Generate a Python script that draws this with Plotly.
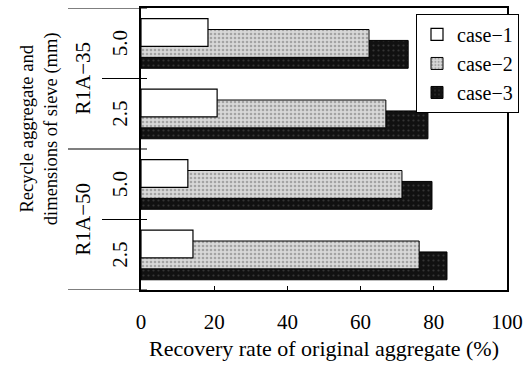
import plotly.graph_objects as go

# ---- data ----
categories = ["R1A−35 5.0", "R1A−35 2.5", "R1A−50 5.0", "R1A−50 2.5"]
sieve_labels = ["5.0", "2.5", "5.0", "2.5"]
group_labels = ["R1A−35", "R1A−50"]
series_names = ["case−1", "case−2", "case−3"]
case1 = [18.3, 20.8, 12.8, 14.2]
case2 = [62.3, 66.9, 71.3, 76.0]
case3 = [73.0, 78.4, 79.5, 83.6]
x_ticks = [0, 20, 40, 60, 80, 100]

FONT = "Liberation Serif"
W, H = 529, 374
L, R, T, B = 141, 22, 6, 84
PW = W - L - R
PH = H - T - B

def px2paper(px):
    return (px - L) / PW

fig = go.Figure()
bar_w = 0.395
styles = {
    "case−3": dict(offset=-0.04, marker=dict(color="#111111", line=dict(color="#000", width=1),
                                            pattern=dict(shape=".", fgcolor="#5a5a5a", bgcolor="#111111", size=5, solidity=0.15))),
    "case−2": dict(offset=-0.195, marker=dict(color="#cccccc", line=dict(color="#000", width=1),
                                             pattern=dict(shape=".", fgcolor="#6e6e6e", bgcolor="#d8d8d8", size=4, solidity=0.35))),
    "case−1": dict(offset=-0.35, marker=dict(color="#ffffff", line=dict(color="#000", width=1.2))),
}
for name, vals in [("case−3", case3), ("case−2", case2), ("case−1", case1)]:
    s = styles[name]
    fig.add_trace(go.Bar(y=categories, x=vals, orientation="h", name=name,
                         width=bar_w, offset=s["offset"], marker=s["marker"]))

fig.update_layout(
    width=W, height=H, margin=dict(l=L, r=R, t=T, b=B),
    barmode="overlay", plot_bgcolor="white", paper_bgcolor="white",
    font=dict(family=FONT, size=18, color="black"),
    showlegend=True,
    legend=dict(x=px2paper(416), y=1 - (12 - T) / PH, xanchor="left", yanchor="top",
                traceorder="reversed", bgcolor="white", bordercolor="black", borderwidth=1,
                font=dict(family=FONT, size=20), itemwidth=30, tracegroupgap=0),
    xaxis=dict(range=[0, 100], tickvals=x_ticks, ticks="inside", ticklen=4, tickcolor="black",
               showline=True, linecolor="black", linewidth=1.5, mirror=True, showgrid=False,
               zeroline=False, tickfont=dict(family=FONT, size=21), ticklabelstandoff=12,
               title=dict(text="Recovery rate of original aggregate (%)", font=dict(family=FONT, size=22), standoff=8)),
    yaxis=dict(categoryorder="array", categoryarray=categories, range=[3.5, -0.5],
               showticklabels=False, ticks="", showline=True, linecolor="black", linewidth=1.5,
               mirror=True, showgrid=False, zeroline=False),
)

# y labels
for i, lab in enumerate(sieve_labels):
    fig.add_annotation(x=px2paper(120), xref="paper", y=i, yref="y", text=lab, textangle=-90,
                       showarrow=False, font=dict(family=FONT, size=21), xanchor="center", yanchor="middle")
for g, lab in enumerate(group_labels):
    fig.add_annotation(x=px2paper(82), xref="paper", y=2 * g + 0.5, yref="y", text=lab, textangle=-90,
                       showarrow=False, font=dict(family=FONT, size=21), xanchor="center", yanchor="middle")
fig.add_annotation(x=px2paper(39), xref="paper", y=1 - (128 - T) / PH, yref="paper",
                   text="Recycle aggregate and<br>dimensions of sieve (mm)", textangle=-90,
                   showarrow=False, font=dict(family=FONT, size=18.5), xanchor="center", yanchor="middle")

# divider lines in the label area
line = dict(color="black", width=1.2)
for yv, x0 in [(-0.5, 68), (1.5, 68), (3.5, 68), (0.5, 102), (2.5, 102)]:
    fig.add_shape(type="line", xref="paper", yref="y", x0=px2paper(x0), x1=px2paper(147),
                  y0=yv, y1=yv, line=line, layer="above")

fig.write_html("out.html")
